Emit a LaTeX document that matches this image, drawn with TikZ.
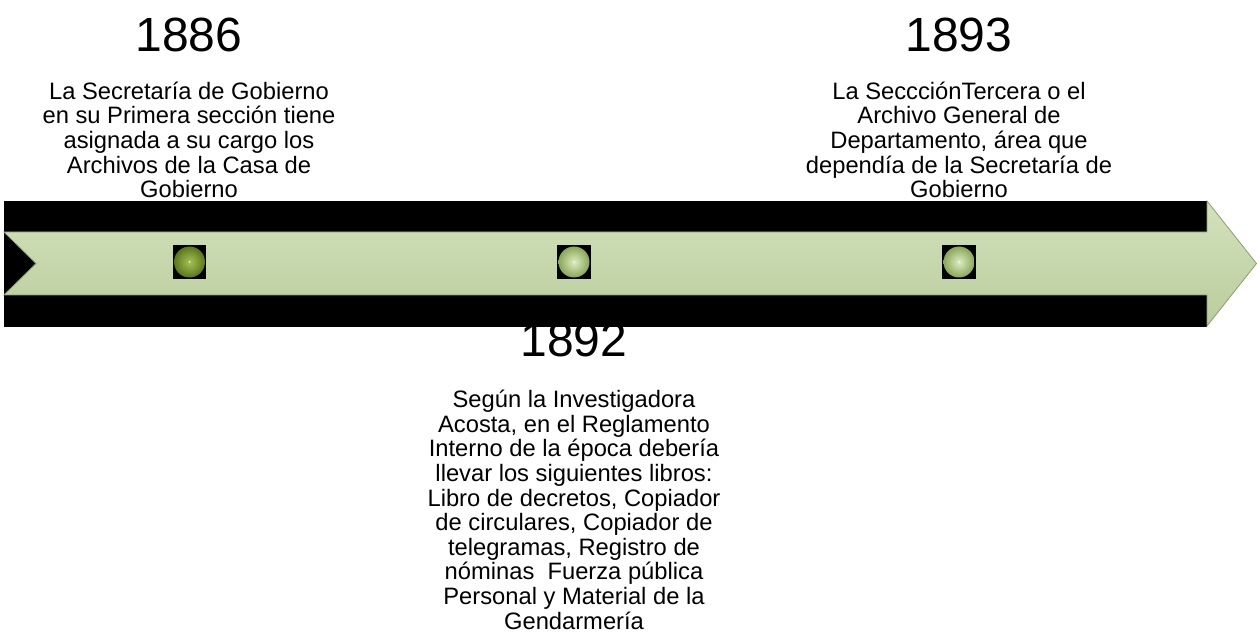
\documentclass[tikz,border=0pt]{standalone}
\usepackage{fontspec}
\setmainfont{Liberation Sans}
\definecolor{arrowtop}{HTML}{D3E1BC}
\definecolor{arrowbot}{HTML}{BACD9D}
\definecolor{arrowedge}{HTML}{8C9C72}
\definecolor{balldarkin}{HTML}{A6C258}
\definecolor{balldarkout}{HTML}{5A761C}
\definecolor{balllightin}{HTML}{DDEDBF}
\definecolor{balllightout}{HTML}{8AA65C}
\tikzset{
  year/.style={anchor=base, inner sep=0pt, font=\fontsize{36pt}{40pt}\selectfont},
  desc/.style={anchor=north, inner sep=0pt, align=center, font=\fontsize{17.8pt}{18.45pt}\selectfont},
  ballbg/.style={fill=black, draw=none, minimum size=25pt, inner sep=0pt},
}
\begin{document}
\begin{tikzpicture}[x=0.75pt,y=-0.75pt]
\useasboundingbox (0,0) rectangle (1257,634);
\fill[white] (0,0) rectangle (1257,634);
% texts
\node[year] (y1886) at (189,51.5) {1886};
\node[desc] (t1886) at (189,81.5) {La Secretaría de Gobierno\\en su Primera sección tiene\\asignada a su cargo los\\Archivos de la Casa de\\Gobierno};
\node[year] (y1893) at (959,51.5) {1893};
\node[desc] (t1893) at (959,81.5) {La SeccciónTercera o el\\Archivo General de\\Departamento, área que\\dependía de la Secretaría de\\Gobierno};
\node[year] (y1892) at (574,357) {1892};
\node[desc] (t1892) at (574,390) {Según la Investigadora\\Acosta, en el Reglamento\\Interno de la época debería\\llevar los siguientes libros:\\Libro de decretos, Copiador\\de circulares, Copiador de\\telegramas, Registro de\\nóminas\ \ Fuerza pública\\Personal y Material de la\\Gendarmería};
% bar
\fill[black] (4,201) rectangle (1207,327);
\shade[top color=arrowtop, bottom color=arrowbot, draw=arrowedge, line width=0.6pt]
  (4,232) -- (1207,232) -- (1207,201) -- (1256.5,263.5) -- (1207,326) -- (1207,295) -- (4,295) -- (36,263.5) -- cycle;
% balls
\node[ballbg] (b1) at (189.5,262) {};
\shade[inner color=balldarkin, outer color=balldarkout] (b1.center) circle (15.5);
\fill[white, opacity=0.7] (b1.center) circle (1);
\node[ballbg] (b2) at (574,262) {};
\shade[inner color=balllightin, outer color=balllightout] (b2.center) circle (15.5);
\fill[white, opacity=0.7] (b2.center) circle (1);
\node[ballbg] (b3) at (959,262) {};
\shade[inner color=balllightin, outer color=balllightout] (b3.center) circle (15.5);
\fill[white, opacity=0.7] (b3.center) circle (1);
\end{tikzpicture}
\end{document}
